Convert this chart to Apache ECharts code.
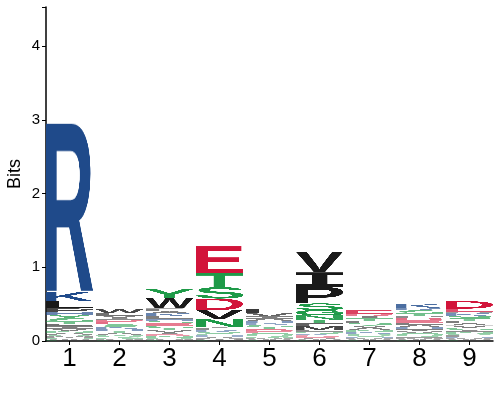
<!DOCTYPE html>
<html><head><meta charset="utf-8">
<script src="https://cdn.jsdelivr.net/npm/echarts@6/dist/echarts.min.js"></script>
<style>html,body{margin:0;padding:0;background:#fff}#c{width:500px;height:400px}</style>
</head><body><div id="c"></div>
<script>
// Positions along the sequence
const positions = [1, 2, 3, 4, 5, 6, 7, 8, 9];
const yTicks = [0, 1, 2, 3, 4];

// Letter stacks, bottom -> top, heights in bits
const stackLetters = [
  ['C','W','G','M','Q','A','N','V','I','F','T','S','Y','H','P','L','K','R'],
  ['C','M','G','Q','N','A','T','H','K','S','E','D','I','V','L','W'],
  ['C','M','Q','N','D','I','V','T','G','E','S','H','L','K','A','F','P','W','Y'],
  ['C','W','M','A','H','G','Q','K','L','I','N','V','D','S','T','E'],
  ['C','W','M','N','Q','G','E','D','T','S','K','H','A','I','V','L'],
  ['C','W','A','D','E','K','Q','L','M','F','T','N','G','S','P','I','V'],
  ['C','W','M','H','G','Q','K','N','A','V','S','L','T','I','D','E'],
  ['C','W','M','F','Q','G','V','I','H','A','L','E','D','P','T','S','R','K'],
  ['C','W','M','H','F','Q','N','I','G','V','A','L','T','S','K','P','E','D']
];
const stackBits = [
  [0.012,0.015,0.02,0.02,0.02,0.025,0.025,0.03,0.03,0.035,0.035,0.04,0.045,0.04,0.05,0.10,0.125,2.293],
  [0.01,0.015,0.02,0.02,0.02,0.025,0.025,0.03,0.03,0.03,0.035,0.03,0.025,0.03,0.035,0.05],
  [0.01,0.015,0.02,0.025,0.02,0.025,0.03,0.03,0.035,0.03,0.035,0.03,0.03,0.04,0.03,0.03,0.015,0.13,0.12],
  [0.01,0.01,0.015,0.02,0.02,0.02,0.025,0.025,0.025,0.02,0.11,0.12,0.156,0.154,0.19,0.365],
  [0.01,0.015,0.015,0.02,0.02,0.025,0.025,0.03,0.03,0.03,0.025,0.03,0.03,0.03,0.04,0.055],
  [0.01,0.015,0.02,0.02,0.015,0.02,0.025,0.025,0.05,0.04,0.05,0.06,0.07,0.09,0.225,0.195,0.28],
  [0.01,0.015,0.015,0.02,0.02,0.02,0.025,0.025,0.03,0.03,0.035,0.03,0.035,0.03,0.03,0.05],
  [0.01,0.015,0.015,0.02,0.02,0.025,0.025,0.03,0.03,0.03,0.03,0.03,0.035,0.025,0.035,0.04,0.035,0.05],
  [0.01,0.015,0.015,0.02,0.02,0.02,0.025,0.025,0.03,0.03,0.03,0.03,0.03,0.04,0.035,0.02,0.045,0.10]
];

// colour scheme per residue group
const colorMap = {
  R:'#1f4a8a',K:'#1f4a8a',H:'#1f4a8a',
  D:'#d2143a',E:'#d2143a',
  S:'#1e9a48',T:'#1e9a48',G:'#1e9a48',Y:'#1e9a48',C:'#1e9a48',N:'#1e9a48',Q:'#1e9a48',
  A:'#1a1a1a',V:'#1a1a1a',L:'#1a1a1a',I:'#1a1a1a',P:'#1a1a1a',W:'#1a1a1a',F:'#1a1a1a',M:'#1a1a1a'
};

const glyphCache = {};
function glyph(ch) {
  if (glyphCache[ch]) return glyphCache[ch];
  const W = 160, H = 160;
  const font = ch === 'I' ? 'bold 200px "DejaVu Sans Mono"' : 'bold 200px "Liberation Sans"';
  const mc = document.createElement('canvas').getContext('2d');
  mc.font = font;
  const m = mc.measureText(ch);
  const l = m.actualBoundingBoxLeft, r = m.actualBoundingBoxRight;
  const a = m.actualBoundingBoxAscent, d = m.actualBoundingBoxDescent;
  const cv = document.createElement('canvas');
  cv.width = W; cv.height = H;
  const ctx = cv.getContext('2d');
  ctx.setTransform(W / (l + r), 0, 0, H / (a + d), 0, 0);
  ctx.font = font;
  ctx.fillStyle = colorMap[ch] || '#000';
  ctx.textBaseline = 'alphabetic';
  ctx.textAlign = 'left';
  ctx.fillText(ch, l, a);
  glyphCache[ch] = cv;
  return cv;
}

const letterData = [];
positions.forEach((p, i) => {
  let y = 0;
  stackLetters[i].forEach((ch, j) => {
    const h = stackBits[i][j];
    letterData.push([p, y, y + h, ch]);
    y += h;
  });
});

const chart = echarts.init(document.getElementById('c'), null, {renderer: 'canvas'});
chart.setOption({
  animation: false,
  backgroundColor: '#fff',
  grid: {left: 46, right: 7, top: 7, bottom: 59, containLabel: false, outerBoundsMode: 'none'},
  xAxis: {
    type: 'value', min: 0.53, max: 9.47,
    axisLine: {show: true, onZero: false, lineStyle: {color: '#000', width: 1.5}},
    axisTick: {show: true, length: 4, customValues: positions, lineStyle: {color: '#000', width: 1}},
    axisLabel: {customValues: positions, fontSize: 26, color: '#000', fontFamily: 'Liberation Sans', margin: 5},
    splitLine: {show: false}
  },
  yAxis: {
    type: 'value', min: 0, max: 4.53, interval: 1,
    name: 'Bits', nameLocation: 'middle', nameGap: 22, nameMoveOverlap: false,
    nameTextStyle: {fontSize: 18, color: '#000', fontFamily: 'Liberation Sans'},
    axisLine: {show: true, lineStyle: {color: '#000', width: 1.5}},
    axisTick: {show: true, length: 4, lineStyle: {color: '#000', width: 1}},
    axisLabel: {fontSize: 15, color: '#000', fontFamily: 'Liberation Sans', margin: 6,
      customValues: yTicks},
    splitLine: {show: false}
  },
  series: [{
    type: 'custom',
    clip: false,
    data: letterData,
    encode: {x: 0, y: [1, 2]},
    renderItem: function (params, api) {
      const x = api.value(0), y0 = api.value(1), y1 = api.value(2);
      const ch = letterData[params.dataIndex][3];
      const p0 = api.coord([x - 0.475, y0]);
      const p1 = api.coord([x + 0.475, y1]);
      const h = p0[1] - p1[1];
      const op = Math.min(1, 0.2 + (y1 - y0) * 12);
      return {
        type: 'image',
        style: {image: glyph(ch), x: p0[0], y: p1[1], width: p1[0] - p0[0], height: h, opacity: op}
      };
    }
  }]
});
</script>
</body></html>
